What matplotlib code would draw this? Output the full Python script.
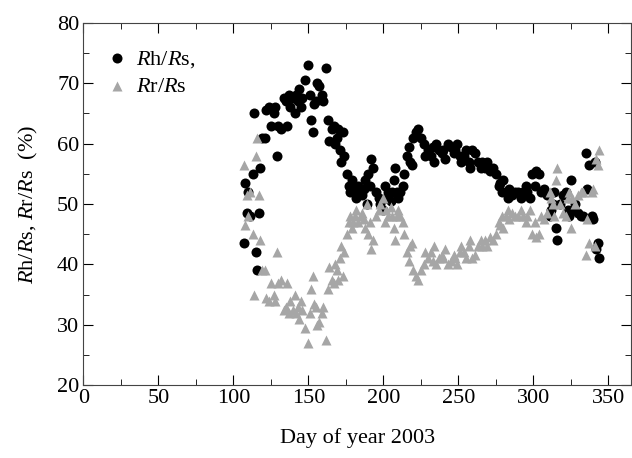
"""Rh/Rs and Rr/Rs over the 2003 season (day of year)."""

import matplotlib

matplotlib.use("Agg")
import matplotlib.pyplot as plt  # noqa: E402
from matplotlib.ticker import MultipleLocator  # noqa: E402

plt.rcParams["font.family"] = ["Liberation Serif", "DejaVu Serif"]
plt.rcParams["mathtext.fontset"] = "custom"
plt.rcParams["mathtext.rm"] = "Liberation Serif"
plt.rcParams["mathtext.it"] = "Liberation Serif:italic"

# day of year
day = [
    107, 108, 109, 110, 111, 113, 114, 115, 116, 117,
    118, 119, 121, 122, 124, 125, 127, 128, 129, 130,
    132, 134, 135, 136, 137, 138, 140, 141, 142, 143,
    144, 145, 146, 148, 150, 151, 152, 153, 154, 155,
    156, 157, 159, 160, 162, 163, 164, 166, 167, 168,
    169, 170, 171, 172, 173, 174, 176, 177, 178, 179,
    180, 181, 182, 183, 185, 186, 187, 188, 189, 190,
    191, 192, 193, 195, 197, 198, 200, 201, 202, 203,
    205, 206, 207, 208, 209, 210, 211, 213, 214, 216,
    217, 218, 219, 220, 222, 223, 225, 227, 228, 230,
    232, 233, 234, 235, 237, 239, 240, 241, 243, 245,
    247, 248, 249, 251, 252, 254, 255, 257, 258, 259,
    261, 263, 265, 266, 268, 269, 271, 273, 275, 277,
    278, 279, 280, 282, 283, 284, 286, 288, 290, 292,
    293, 295, 296, 298, 299, 301, 302, 304, 305, 307,
    309, 311, 312, 313, 314, 315, 316, 318, 320, 322,
    323, 324, 325, 326, 328, 330, 332, 333, 335, 336,
    337, 339, 340, 341, 342, 343, 344,
]

# heterotrophic share (%)
rh = [
    43.5, 53.5, 48.5, 52, 48, 55, 65, 42, 39, 48.5,
    56, 61, 61, 65.5, 66, 63, 65, 66, 58, 63,
    62.5, 67.5, 67, 63, 68, 66, 67.5, 65, 68, 67,
    69, 66, 67.5, 70.5, 73, 68, 64, 62, 66.5, 67,
    70, 69.5, 68, 67, 72.5, 64, 60.5, 62.5, 63, 60,
    61, 62.5, 59, 57, 62, 58, 55, 53, 52, 54,
    53, 52, 51, 53, 52, 51.5, 52.5, 54, 50, 55,
    53, 57.5, 56, 52, 51, 50, 49, 53, 51, 52,
    50.5, 52, 54, 56, 52, 51, 52, 53, 55, 58,
    59.5, 57, 56.5, 61, 62, 62.5, 61, 60, 58, 59,
    58, 59.5, 57, 60, 59, 58.5, 59, 57.5, 60, 59.5,
    58.5, 59, 60, 58, 57, 58, 59, 57, 56, 59,
    58.5, 57, 56, 57, 56, 57, 55.5, 56, 55, 53,
    53.5, 52, 54, 52, 51, 52.5, 51.5, 52, 52, 51,
    52, 53, 52, 51, 55, 53, 55.5, 55, 52, 52.5,
    51.5, 48, 49, 50, 52, 46, 44, 50, 51.5, 52,
    49, 48, 54, 49, 50, 48.5, 48, 48, 58.5, 52.5,
    56.5, 48, 47.5, 57, 42.5, 43.5, 41,
]

# root share (%)
rr = [
    56.5, 46.5, 51.5, 48, 52, 45, 35, 58, 61, 51.5,
    44, 39, 39, 34.5, 34, 37, 35, 34, 42, 37,
    37.5, 32.5, 33, 37, 32, 34, 32.5, 35, 32, 33,
    31, 34, 32.5, 29.5, 27, 32, 36, 38, 33.5, 33,
    30, 30.5, 32, 33, 27.5, 36, 39.5, 37.5, 37, 40,
    39, 37.5, 41, 43, 38, 42, 45, 47, 48, 46,
    47, 48, 49, 47, 48, 48.5, 47.5, 46, 50, 45,
    47, 42.5, 44, 48, 49, 50, 51, 47, 49, 48,
    49.5, 48, 46, 44, 48, 49, 48, 47, 45, 42,
    40.5, 43, 43.5, 39, 38, 37.5, 39, 40, 42, 41,
    42, 40.5, 43, 40, 41, 41.5, 41, 42.5, 40, 40.5,
    41.5, 41, 40, 42, 43, 42, 41, 43, 44, 41,
    41.5, 43, 44, 43, 44, 43, 44.5, 44, 45, 47,
    46.5, 48, 46, 48, 49, 47.5, 48.5, 48, 48, 49,
    48, 47, 48, 49, 45, 47, 44.5, 45, 48, 47.5,
    48.5, 52, 51, 50, 48, 54, 56, 50, 48.5, 48,
    51, 52, 46, 51, 50, 51.5, 52, 52, 41.5, 47.5,
    43.5, 52, 52.5, 43, 57.5, 56.5, 59,
]


def main() -> None:
    fig = plt.figure(figsize=(6.32, 4.58), dpi=100)
    ax = fig.add_axes([0.132, 0.159, 0.866, 0.791])

    ax.scatter(day, rh, s=52, marker="o", color="black", linewidths=0,
               label=r"$R$h/$R$s,", zorder=2)
    ax.scatter(day, rr, s=52, marker="^", color="#a6a6a6", linewidths=0,
               label=r"$R$r/$R$s", zorder=3)

    ax.set_xlim(0, 365)
    ax.set_ylim(20, 80)
    ax.xaxis.set_major_locator(MultipleLocator(50))
    ax.xaxis.set_minor_locator(MultipleLocator(25))
    ax.yaxis.set_major_locator(MultipleLocator(10))
    ax.yaxis.set_minor_locator(MultipleLocator(5))
    ax.tick_params(which="both", direction="in", top=True, right=True,
                   labelsize=16, pad=3)
    ax.tick_params(which="major", length=7)
    ax.tick_params(which="minor", length=4)
    for spine in ax.spines.values():
        spine.set_color("#444444")

    ax.set_xlabel("Day of year 2003", fontsize=16, labelpad=14)
    ax.set_ylabel(r"$R$h/$R$s, $R$r/$R$s  (%)", fontsize=16, labelpad=12)

    ax.legend(loc="upper left", bbox_to_anchor=(0.0, 0.972), frameon=False,
              fontsize=16, handlelength=1.6, handletextpad=0.05,
              borderaxespad=0.2, borderpad=0.5, labelspacing=0.3,
              scatterpoints=1)

    fig.savefig("out.png", dpi=100)


if __name__ == "__main__":
    main()
